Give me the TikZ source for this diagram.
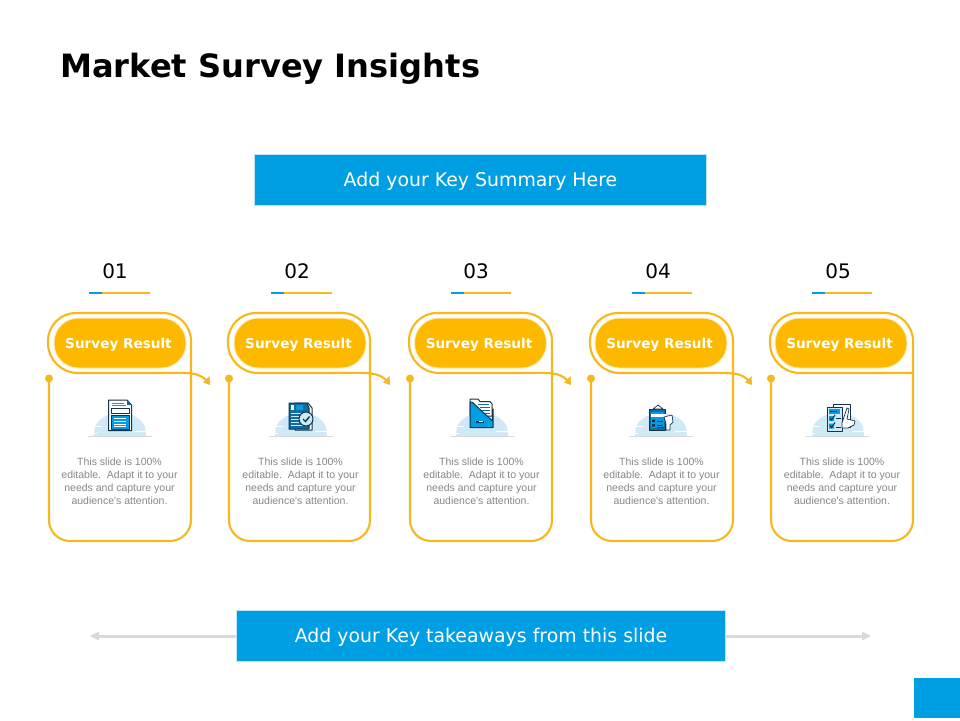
\documentclass[tikz,border=0pt]{standalone}
\usepackage{fontspec}
\setmainfont{DejaVu Sans}
\newfontfamily\bodyfont{Liberation Sans}
\definecolor{skyb}{HTML}{009FE3}
\definecolor{amber}{HTML}{FDB900}
\definecolor{amberline}{HTML}{F5B81E}
\definecolor{hill}{HTML}{CFE9F6}
\definecolor{navy}{HTML}{14334F}
\definecolor{teal}{HTML}{0F6E9F}
\definecolor{bodygrey}{HTML}{878787}
\definecolor{arrowgrey}{HTML}{D9D9D9}
\tikzset{
  titletext/.style={font=\bfseries\fontsize{32.1}{36}\selectfont,text=black,anchor=west,inner sep=0},
  bluebar/.style={fill=skyb,draw=skyb!25,line width=1.2pt,inner sep=0,minimum height=51pt},
  bartext/.style={text=white,font=\fontsize{18.9}{22}\selectfont,inner sep=0},
  numtext/.style={font=\fontsize{20}{23}\selectfont,text=black,inner sep=0},
  pillbox/.style={fill=amber,draw=amber!30,line width=1pt,rounded corners=24.5pt,minimum height=50pt,inner sep=0},
  pilltext/.style={font=\bfseries\fontsize{13.6}{15}\selectfont,text=white,inner sep=0},
  cardline/.style={draw=amberline,line width=2.1pt},
  bodytext/.style={font=\bodyfont\fontsize{10.5}{13}\selectfont,text=bodygrey,align=center,inner sep=0},
  icoline/.style={draw=navy,line width=1pt,line join=round},
  wline/.style={draw=white,line width=.8pt},
  nline/.style={draw=navy,line width=.8pt},
}
\newcommand{\hillbg}{%
  \fill[hill] (-26,0) -- (-25,-9) .. controls (-22,-17) and (-12,-23) .. (0,-23) .. controls (12,-23) and (22,-17) .. (25,-9) -- (26,0) -- cycle;
  \draw[white,line width=1pt] (-27,-9.5) -- (-18,-9.5) (14,-5) -- (27,-5) (-30,-3) -- (-23,-3);
  \draw[arrowgrey,line width=.8pt] (-32,0) -- (32,0);
}
\begin{document}
\begin{tikzpicture}[x=1pt,y=-1pt]
\useasboundingbox (0,0) rectangle (960,720);
\fill[white] (0,0) rectangle (960,720);
\node[titletext] (title) at (60,68.5) {Market Survey Insights};
\node[bluebar,minimum width=452pt] (summary) at (480.5,180) {};
\node[bartext] (summarytext) at (480.5,181.5) {Add your Key Summary Here};
\foreach \i/\L/\R/\pc/\nc/\ua/\ub/\tc/\tip in {
  1/49/191/120/115/89/150/119.5/210,
  2/229/370/300/297/271/332/300.5/390,
  3/410/552/480.5/476/451/511/481.5/571,
  4/591/733/661/658/632/692/661.5/752,
  5/771/913/841/838/812/872/842/0}{
  \node[numtext] (num\i) at (\nc,271.5) {0\i};
  \coordinate (ua\i) at (\ua,293);
  \coordinate (ub\i) at (\ub,293);
  \draw[amberline,line width=2pt] (ua\i) -- (ub\i);
  \draw[skyb,line width=2pt] (ua\i) -- ++(13,0);
  \node[pillbox,minimum width=132pt] (pill\i) at (\pc,343) {};
  \node[pilltext] (lab\i) at (\pc-1.5,344.5) {Survey Result};
  \coordinate (dot\i) at (\L,378.5);
  \fill[amberline] (dot\i) circle (4);
  \node[bodytext] (body\i) at (\tc,481.5) {This slide is 100\%\\editable.\ \ Adapt it to your\\needs and capture your\\audience's attention.};
  \ifnum\i<5
    \coordinate (tip\i) at (\tip,385);
    \draw[cardline] (dot\i) [rounded corners=21pt] -- (\L,541) -- (\R,541) [rounded corners=28pt] -- (\R,313) -- (\L-1,313) [rounded corners=30pt] -- (\L-1,373) [sharp corners] -- (\R-20,373) .. controls (\R+4,372.5) and (\tip-10,374) .. (\tip-3,381);
    \fill[amberline] (tip\i) -- ++(-7,-2.5) -- ++(6.5,-6.5) -- cycle;
  \else
    \draw[cardline] (dot\i) [rounded corners=21pt] -- (\L,541) -- (\R,541) [rounded corners=28pt] -- (\R,313) -- (\L-1,313) [rounded corners=30pt] -- (\L-1,373) [sharp corners] -- (\R,373);
  \fi
}
% icon 1
\begin{scope}[shift={(120,436)}]
  \hillbg
  \filldraw[icoline,fill=white] (-11.5,-36) -- (7,-36) -- (11.5,-31) -- (11.5,-5.5) -- (-11.5,-5.5) -- cycle;
  \fill[teal] (7,-36) -- (11.5,-31) -- (7,-31) -- cycle;
  \draw[nline,draw=skyb] (-8,-33) -- (4,-33) (-8,-30.5) -- (6,-30.5);
  \filldraw[icoline,fill=white,line width=.7pt] (-9,-27.5) rectangle (9,-22.5);
  \filldraw[icoline,fill=skyb,line width=.7pt] (-9,-21) rectangle (9,-7);
  \draw[wline] (-6,-18) -- (6,-18) (-6,-15) -- (6,-15) (-6,-12) -- (6,-12) (-6,-9.5) -- (6,-9.5);
\end{scope}
% icon 2
\begin{scope}[shift={(301,436)}]
  \hillbg
  \filldraw[icoline,fill=white] (-6,-33) -- (7,-33) -- (11,-28) -- (11,-6) -- (-6,-6) -- cycle;
  \filldraw[icoline,fill=teal] (-12,-33) -- (6,-33) -- (8,-28) -- (8,-7) -- (-12,-7) -- cycle;
  \fill[white] (-10,-31) rectangle (-7,-26);
  \fill[skyb] (-5,-31) rectangle (2,-26);
  \draw[wline,draw=hill] (-10,-23) -- (4,-23) (-10,-20) -- (0,-20) (-10,-17) -- (-1,-17) (-10,-14) -- (-2,-14) (-10,-11) -- (2,-11);
  \filldraw[icoline,fill=hill] (5,-17) circle (7);
  \draw[navy,line width=1.4pt] (2,-17) -- (4.5,-14.5) -- (8.5,-19.5);
\end{scope}
% icon 3
\begin{scope}[shift={(482,436)}]
  \hillbg
  \filldraw[icoline,fill=white] (-12,-37) -- (-4,-37) -- (-2,-34.5) -- (8,-34.5) -- (10,-32) -- (10,-20) -- (-12,-20) -- cycle;
  \draw[nline,draw=teal] (-4,-32) -- (7,-32) (-2,-29) -- (8,-29) (0,-26) -- (8,-26) (2,-23) -- (8,-23);
  \filldraw[icoline,fill=skyb] (-12,-34) -- (-10,-34) -- (10.5,-15) -- (10.5,-27) -- (11,-27) -- (11,-8.5) -- (-12,-8.5) -- cycle;
  \fill[navy] (-6,-15) rectangle (2,-13);
  \fill[white] (-3,-15.5) rectangle (1,-14);
\end{scope}
% icon 4
\begin{scope}[shift={(661,436)}]
  \hillbg
  \filldraw[icoline,fill=teal] (-12,-27) rectangle (4,-6);
  \filldraw[icoline,fill=white,line width=.7pt] (-8,-27) -- (-3,-31) -- (2,-27) -- cycle;
  \fill[skyb] (-10.5,-24.5) rectangle (2.5,-8);
  \fill[white] (-10,-22) rectangle (5,-19);
  \fill[navy] (-9,-16.5) rectangle (-6,-14) (-9,-12) rectangle (-6,-9.5);
  \draw[nline] (-4,-15) -- (2,-15) (-4,-11) -- (2,-11) (-4,-9) -- (3,-9);
  \filldraw[icoline,fill=white,line width=.7pt] (3,-19) -- (11,-21) -- (12,-14) -- (9,-11) -- (9,-6) -- (5,-6) -- (5,-12) -- cycle;
\end{scope}
% icon 5
\begin{scope}[shift={(838,436)}]
  \hillbg
  \filldraw[icoline,fill=white] (-5,-32) rectangle (12,-9);
  \filldraw[icoline,fill=hill] (-11,-29) rectangle (4,-5);
  \fill[skyb] (-9.5,-27.5) rectangle (2,-22);
  \fill[navy] (-8,-25.5) rectangle (-1,-24.5);
  \fill[skyb] (-9,-20) rectangle (-4,-15) (-9,-12.5) rectangle (-4,-7.5);
  \draw[navy,line width=1pt] (-8,-18) -- (-6.5,-16) -- (-3,-21) (-8,-10.5) -- (-6.5,-8.5) -- (-3,-13.5);
  \draw[nline] (-2,-18) -- (3,-18) (-2,-9) -- (3,-9);
  \filldraw[icoline,fill=white,line width=.7pt] (4,-13) -- (9,-28) -- (11,-27) -- (9,-17) -- (17,-15) -- (16,-11) -- (10,-8) -- (4,-8) -- cycle;
\end{scope}
\node[bluebar,minimum width=489pt] (takeaway) at (481,636) {};
\node[bartext] (takeawaytext) at (481,637.5) {Add your Key takeaways from this slide};
\coordinate (lefttip) at (90,636);
\coordinate (righttip) at (871,636);
\draw[arrowgrey,line width=3pt] (takeaway.west) -- ([xshift=8pt]lefttip);
\draw[arrowgrey,line width=3pt] (takeaway.east) -- ([xshift=-8pt]righttip);
\fill[arrowgrey] (lefttip) -- ++(9,-4.5) -- ++(0,9) -- cycle;
\fill[arrowgrey] (righttip) -- ++(-9,-4.5) -- ++(0,9) -- cycle;
\node[fill=skyb,minimum width=46pt,minimum height=40pt,inner sep=0] (corner) at (937,698) {};
\end{tikzpicture}
\end{document}
